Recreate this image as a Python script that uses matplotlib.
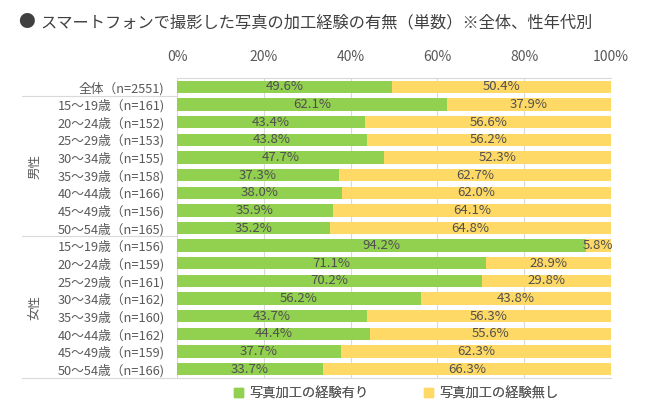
import matplotlib
matplotlib.use("Agg")
import matplotlib.pyplot as plt
from matplotlib.lines import Line2D
from matplotlib.patches import Patch

plt.rcParams['font.family'] = ['Noto Sans CJK JP', 'DejaVu Sans']

title = "スマートフォンで撮影した写真の加工経験の有無（単数）※全体、性年代別"
categories = ["全体（n=2551)",
              "15～19歳（n=161)", "20～24歳（n=152)", "25～29歳（n=153)", "30～34歳（n=155)",
              "35～39歳（n=158)", "40～44歳（n=166)", "45～49歳（n=156)", "50～54歳（n=165)",
              "15～19歳（n=156)", "20～24歳（n=159)", "25～29歳（n=161)", "30～34歳（n=162)",
              "35～39歳（n=160)", "40～44歳（n=162)", "45～49歳（n=159)", "50～54歳（n=166)"]
yes_vals = [49.6, 62.1, 43.4, 43.8, 47.7, 37.3, 38.0, 35.9, 35.2,
            94.2, 71.1, 70.2, 56.2, 43.7, 44.4, 37.7, 33.7]
no_vals = [50.4, 37.9, 56.6, 56.2, 52.3, 62.7, 62.0, 64.1, 64.8,
           5.8, 28.9, 29.8, 43.8, 56.3, 55.6, 62.3, 66.3]
series_names = ["写真加工の経験有り", "写真加工の経験無し"]
groups = ["男性", "女性"]
ticks = [0, 20, 40, 60, 80, 100]

GREEN = "#92D050"
YELLOW = "#FFD966"
TXT = "#595959"

W, H = 650, 415
fig = plt.figure(figsize=(W / 100, H / 100), dpi=100)
ax = fig.add_axes([177 / W, 1 - 378 / H, (611 - 177) / W, (378 - 78) / H])

y = list(range(len(categories)))
ax.barh(y, yes_vals, height=0.7, color=GREEN, zorder=3)
ax.barh(y, no_vals, left=yes_vals, height=0.7, color=YELLOW, zorder=3)

for i, (a, b) in enumerate(zip(yes_vals, no_vals)):
    ax.text(a / 2, i, f"{a:.1f}%", ha="center", va="center", fontsize=9.5, color="#505050", zorder=4)
    ax.text(a + b / 2, i, f"{b:.1f}%", ha="center", va="center", fontsize=9.5, color="#505050", zorder=4)

ax.set_xlim(0, 100)
ax.set_ylim(len(categories) - 0.5, -0.5)
ax.set_xticks(ticks)
ax.set_xticklabels([f"{t}%" for t in ticks], fontsize=10, color=TXT)
ax.xaxis.tick_top()
ax.tick_params(axis="x", length=0, pad=10)
ax.set_yticks(y)
ax.set_yticklabels(categories, fontsize=9.2, color=TXT)
ax.tick_params(axis="y", length=0, pad=9)
ax.grid(axis="x", color="#D9D9D9", linewidth=0.8, zorder=0)
for s in ax.spines.values():
    s.set_visible(False)
ax.spines["top"].set_visible(True)
ax.spines["top"].set_color("#D9D9D9")

# separator lines on the left
for yy in [96, 236, 378]:
    fig.add_artist(Line2D([22 / W, 177 / W], [1 - yy / H, 1 - yy / H], color="#D9D9D9", linewidth=0.8))
fig.add_artist(Line2D([177 / W, 611 / W], [1 - 378 / H, 1 - 378 / H], color="#D9D9D9", linewidth=0.8))

fig.text(35 / W, 1 - 166 / H, groups[0], rotation=90, ha="center", va="center", fontsize=9, color=TXT)
fig.text(35 / W, 1 - 307 / H, groups[1], rotation=90, ha="center", va="center", fontsize=9, color=TXT)

fig.text(18 / W, 1 - 23 / H, "●", ha="left", va="center", fontsize=12, color="#404040")
fig.text(40 / W, 1 - 23 / H, title, ha="left", va="center", fontsize=11.7, color="#404040")

for name, col, xpos in zip(series_names, [GREEN, YELLOW], [234, 424]):
    leg = fig.legend([Patch(color=col)], [name], loc="center left",
                     bbox_to_anchor=(xpos / W, 1 - 394 / H), frameon=False, fontsize=9.5,
                     handlelength=0.65, handleheight=0.65, handletextpad=0.5, labelcolor=TXT,
                     borderaxespad=0, borderpad=0)
    fig.add_artist(leg)

fig.savefig("out.png", dpi=100)
